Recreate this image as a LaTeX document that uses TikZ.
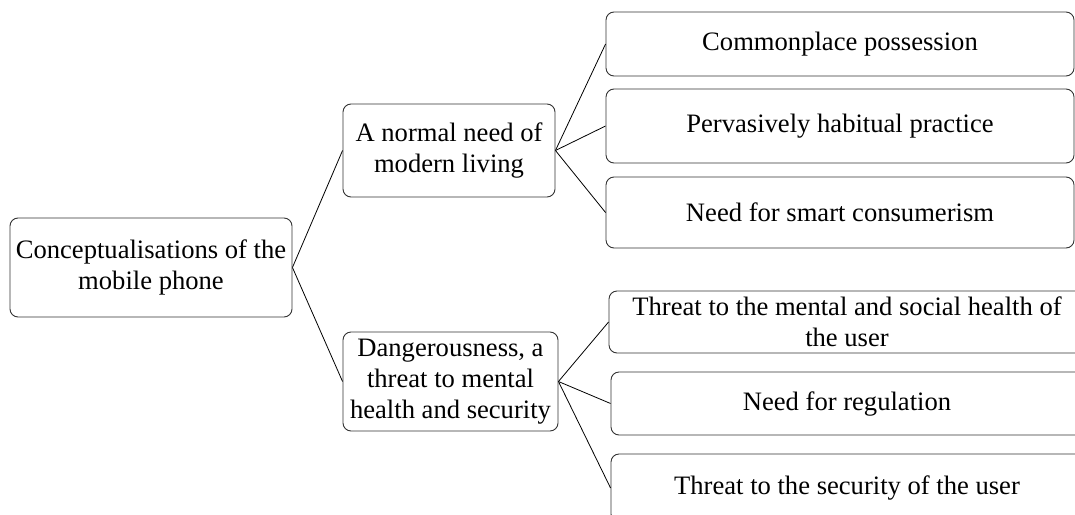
\documentclass[tikz,border=0pt]{standalone}
\usepackage{fontspec}
\setmainfont{Liberation Serif}
\usetikzlibrary{positioning}
\tikzset{
	concept/.style={rectangle, rounded corners=8pt, draw=black!80, line width=0.9pt, align=center, inner sep=0pt, font=\fontsize{26.6}{31}\selectfont},
	theme/.style={concept, minimum width=212, minimum height=96},
	subtheme/.style={concept, minimum width=470, minimum height=66},
	link/.style={draw=black, line width=0.8pt},
}

\begin{document}
\begin{tikzpicture}[x=1pt, y=-1pt]
		\useasboundingbox (0,0) rectangle (1075,514);
		\clip (0,0) rectangle (1075,514);
		\node[concept, minimum width=282, minimum height=99] (root) at (151,267.5) {Conceptualisations of the\\mobile phone};
		\node[theme, minimum height=93] (need) at (449,150.5) {A normal need of\\modern living};
		\node[theme, minimum width=215, minimum height=99] (danger) at (450.5,381.5) {Dangerousness, a\\threat to mental\\health and security};
		\node[subtheme, minimum width=468, minimum height=64] (own) at (840,44) {Commonplace possession};
		\node[subtheme, minimum width=468, minimum height=74] (habit) at (840,126) {Pervasively habitual practice};
		\node[subtheme, minimum width=468, minimum height=71] (smart) at (840,212.5) {Need for smart consumerism};
		\node[subtheme, minimum width=476, minimum height=62] (health) at (847,322) {Threat to the mental and social health of\\the user};
		\node[subtheme, minimum width=472, minimum height=63] (rule) at (847,403.5) {Need for regulation};
		\node[subtheme, minimum width=472, minimum height=68] (secure) at (847,488) {Threat to the security of the user};
		\draw[link] (root.east) -- (need.west);
		\draw[link] (root.east) -- (danger.west);
		\draw[link] (need.east) -- (own.west);
		\draw[link] (need.east) -- (habit.west);
		\draw[link] (need.east) -- (smart.west);
		\draw[link] (danger.east) -- (health.west);
		\draw[link] (danger.east) -- (rule.west);
		\draw[link] (danger.east) -- (secure.west);
	\end{tikzpicture}
\end{document}
